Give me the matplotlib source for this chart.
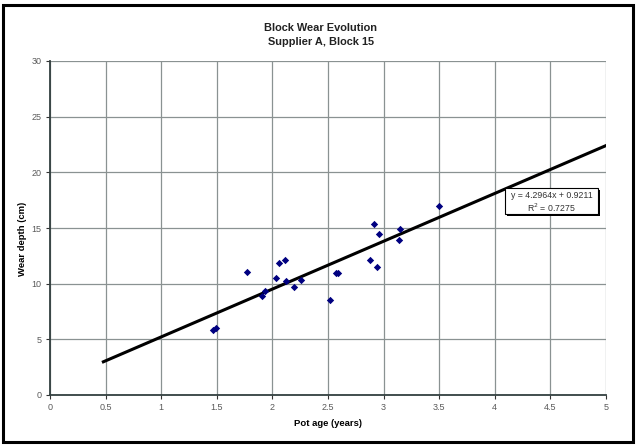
import matplotlib
matplotlib.use("Agg")
import matplotlib.pyplot as plt
from matplotlib.patches import Rectangle
import numpy as np

plt.rcParams['font.family'] = ['Liberation Sans', 'DejaVu Sans']

# Measured block wear vs. pot age
pot_age = [1.465, 1.49, 1.77, 1.91, 1.93, 2.03, 2.06, 2.11, 2.12, 2.19, 2.26,
           2.52, 2.57, 2.59, 2.88, 2.94, 2.91, 2.96, 3.15, 3.14, 3.50]
wear_depth = [5.88, 6.05, 11.07, 8.90, 9.35, 10.53, 11.87, 12.11, 10.27, 9.73, 10.33,
              8.55, 10.98, 10.98, 12.17, 11.51, 15.38, 14.49, 14.93, 13.95, 16.95]

# Linear trendline
slope = 4.2964
intercept = 0.9211
r_squared = 0.7275
trend_x = [0.48, 5.0]

x_ticks = [0, 0.5, 1, 1.5, 2, 2.5, 3, 3.5, 4, 4.5, 5]
x_tick_labels = ['0', '0.5', '1', '1.5', '2', '2.5', '3', '3.5', '4', '4.5', '5']
y_ticks = [0, 5, 10, 15, 20, 25, 30]

W, H = 637, 446
fig = plt.figure(figsize=(W / 100, H / 100), dpi=100)
fig.patch.set_facecolor('white')

# outer chart frame
fig.patches.append(Rectangle((3 / W, 4 / H), 630 / W, 437 / H, transform=fig.transFigure,
                             fill=False, edgecolor='black', linewidth=2.2))

left, right, top, bottom = 50, 606, 61, 395
ax = fig.add_axes([left / W, 1 - bottom / H, (right - left) / W, (bottom - top) / H])
ax.set_xlim(0, 5)
ax.set_ylim(0, 30)

ax.set_xticks(x_ticks)
ax.set_xticklabels(x_tick_labels)
ax.set_yticks(y_ticks)
ax.tick_params(axis='both', labelsize=6.5, labelcolor='#5a5a5a', color='#333333',
               length=3, width=0.8, direction='out', pad=3)
ax.grid(True, color='#8a9292', linewidth=0.9)
ax.set_axisbelow(True)
for side in ('top', 'right'):
    ax.spines[side].set_visible(False)
for side in ('left', 'bottom'):
    ax.spines[side].set_color('#334040')
    ax.spines[side].set_linewidth(1.3)

tx = np.array(trend_x)
ax.plot(tx, slope * tx + intercept, color='black', linewidth=2.2, zorder=3)
ax.scatter(pot_age, wear_depth, marker='D', s=14, color='#000080', zorder=4, linewidths=0)

fig.text(328 / W, 1 - 424 / H, 'Pot age (years)', ha='center', va='center',
         fontsize=6.8, fontweight='bold')
fig.text(23 / W, 1 - 239 / H, 'Wear depth (cm)', ha='center', va='center', rotation=90,
         fontsize=6.8, fontweight='bold')

fig.text(321 / W, 1 - 28 / H, 'Block Wear Evolution', ha='center', va='center',
         fontsize=7.9, fontweight='bold', color='#222222')
fig.text(321 / W, 1 - 42 / H, 'Supplier A, Block 15', ha='center', va='center',
         fontsize=7.9, fontweight='bold', color='#222222')

# trendline equation box with shadow
bx0, by0, bx1, by1 = 505, 188, 598, 214
fig.patches.append(Rectangle(((bx0 + 2) / W, 1 - (by1 + 2) / H), (bx1 - bx0) / W, (by1 - by0) / H,
                             transform=fig.transFigure, facecolor='black', edgecolor='none', zorder=5))
fig.patches.append(Rectangle((bx0 / W, 1 - by1 / H), (bx1 - bx0) / W, (by1 - by0) / H,
                             transform=fig.transFigure, facecolor='white', edgecolor='black',
                             linewidth=0.8, zorder=6))
fig.text((bx0 + bx1) / 2 / W, 1 - 195 / H, f'y = {slope}x + {intercept}', ha='center', va='center',
         fontsize=6.3, color='#333333', zorder=7)
fig.text((bx0 + bx1) / 2 / W, 1 - 208 / H, f'R$^2$ = {r_squared}', ha='center', va='center',
         fontsize=6.3, color='#333333', zorder=7)

fig.savefig('out.png', dpi=100, facecolor='white')
